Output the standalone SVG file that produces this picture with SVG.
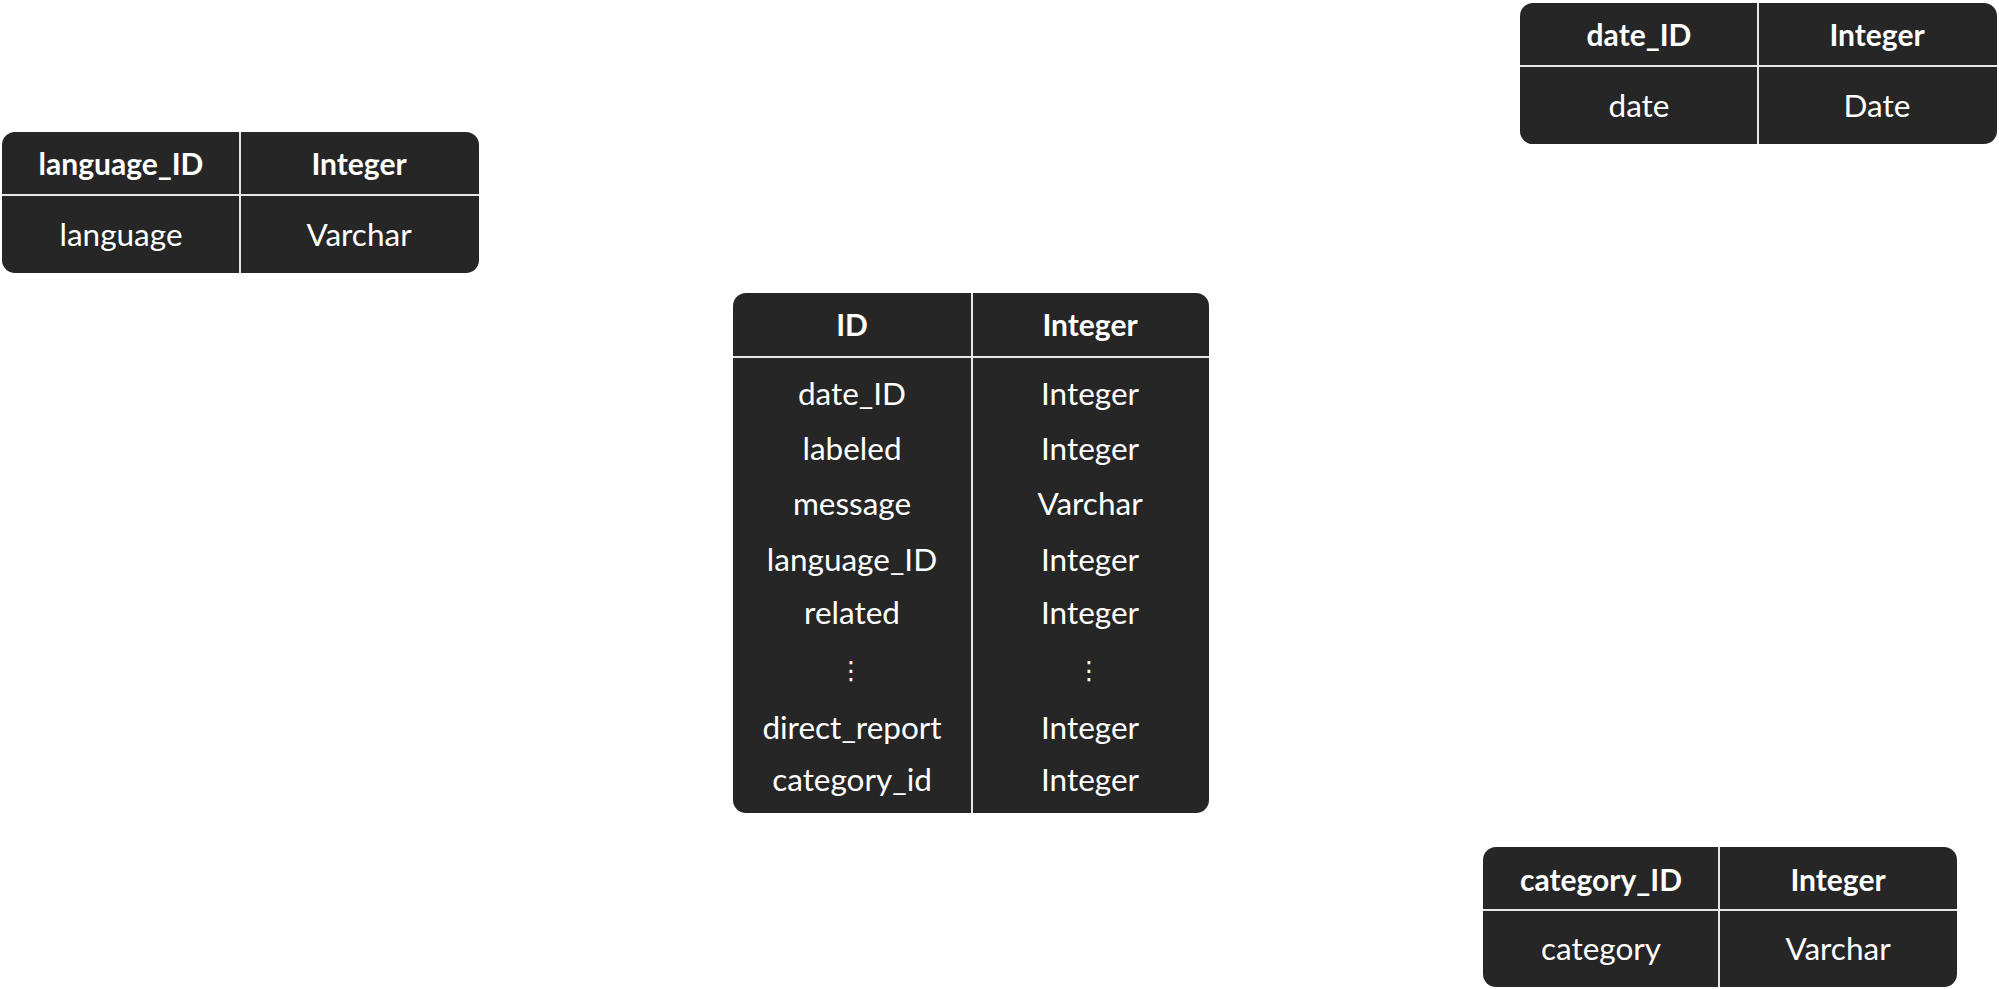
<svg xmlns="http://www.w3.org/2000/svg" width="1999" height="989" viewBox="0 0 1999 989">
<style>
.box{fill:#262626;}
.div{stroke:#e6e6e6;stroke-width:2;fill:none;}
.h{font-family:Lato,"Liberation Sans",sans-serif;font-weight:bold;font-size:30px;fill:#ffffff;text-anchor:middle;}
.t{font-family:Lato,"Liberation Sans",sans-serif;font-size:31.5px;fill:#ffffff;text-anchor:middle;}
.d{font-family:"DejaVu Sans",sans-serif;font-size:25px;fill:#ffffff;text-anchor:middle;}
</style>
<rect width="1999" height="989" fill="#ffffff"/>
<g id="language_table">
<rect class="box" x="2" y="132" width="477" height="141" rx="13"/>
<line class="div" x1="240" y1="132" x2="240" y2="273"/>
<line class="div" x1="2" y1="195" x2="479" y2="195"/>
<text class="h" x="121" y="175">language_ID</text>
<text class="h" x="359" y="175">Integer</text>
<text class="t" x="121" y="246">language</text>
<text class="t" x="359" y="246">Varchar</text>
</g>
<g id="date_table">
<rect class="box" x="1520" y="3" width="477" height="141" rx="13"/>
<line class="div" x1="1758" y1="3" x2="1758" y2="144"/>
<line class="div" x1="1520" y1="66" x2="1997" y2="66"/>
<text class="h" x="1639" y="46">date_ID</text>
<text class="h" x="1877" y="46">Integer</text>
<text class="t" x="1639" y="117">date</text>
<text class="t" x="1877" y="117">Date</text>
</g>
<g id="main_table">
<rect class="box" x="733" y="293" width="476" height="520" rx="13"/>
<line class="div" x1="972" y1="293" x2="972" y2="813"/>
<line class="div" x1="733" y1="357" x2="1209" y2="357"/>
<text class="h" x="852" y="336">ID</text>
<text class="h" x="1090" y="336">Integer</text>
<text class="t" x="852" y="405">date_ID</text>
<text class="t" x="1090" y="405">Integer</text>
<text class="t" x="852" y="460">labeled</text>
<text class="t" x="1090" y="460">Integer</text>
<text class="t" x="852" y="515">message</text>
<text class="t" x="1090" y="515">Varchar</text>
<text class="t" x="852" y="571">language_ID</text>
<text class="t" x="1090" y="571">Integer</text>
<text class="t" x="852" y="624">related</text>
<text class="t" x="1090" y="624">Integer</text>
<text class="d" x="851" y="679">⋮</text>
<text class="d" x="1089" y="679">⋮</text>
<text class="t" x="852" y="739">direct_report</text>
<text class="t" x="1090" y="739">Integer</text>
<text class="t" x="852" y="791">category_id</text>
<text class="t" x="1090" y="791">Integer</text>
</g>
<g id="category_table">
<rect class="box" x="1483" y="847" width="474" height="140" rx="13"/>
<line class="div" x1="1719" y1="847" x2="1719" y2="987"/>
<line class="div" x1="1483" y1="910" x2="1957" y2="910"/>
<text class="h" x="1601" y="891">category_ID</text>
<text class="h" x="1838" y="891">Integer</text>
<text class="t" x="1601" y="960">category</text>
<text class="t" x="1838" y="960">Varchar</text>
</g>
<g id="connectors"></g>
</svg>
